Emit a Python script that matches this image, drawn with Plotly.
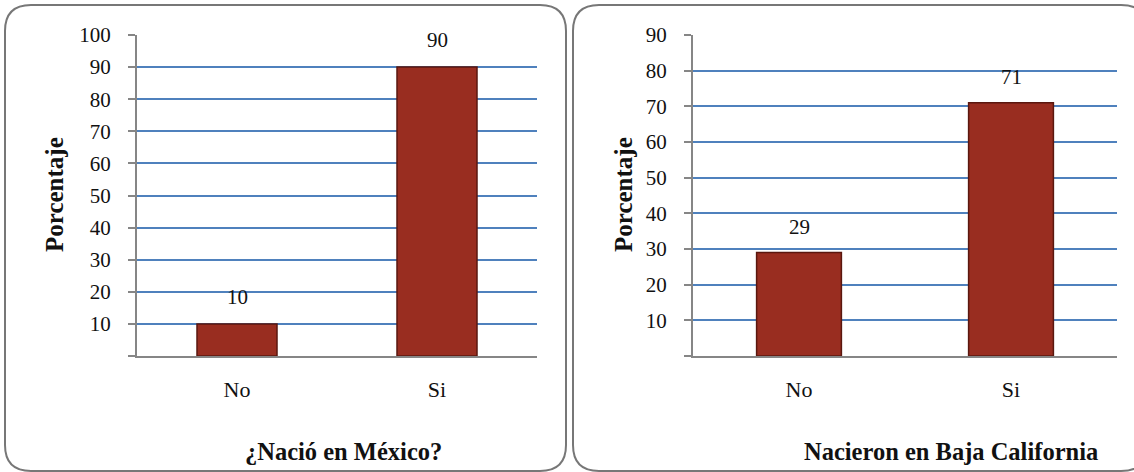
import plotly.graph_objects as go

# ---- data ----
categories = ["No", "Si"]
mexico_values = [10, 90]
baja_values = [29, 71]
mexico_labels = ["10", "90"]
baja_labels = ["29", "71"]
left_ticks = [0, 10, 20, 30, 40, 50, 60, 70, 80, 90, 100]
right_ticks = [0, 10, 20, 30, 40, 50, 60, 70, 80, 90]
left_title = "¿Nació en México?"
right_title = "Nacieron en Baja California"
y_title = "Porcentaje"

W, H = 1134, 472
FONT = "Liberation Serif"
BAR = "#992D20"
BAR_LINE = "#5A170F"
GRID = "#4F81BD"
AXIS = "#868686"
FRAME = "#777777"


def px(x):
    return x / W


def py(y):
    return 1 - y / H


fig = go.Figure()
fig.add_trace(go.Bar(x=categories, y=mexico_values, xaxis="x", yaxis="y",
                     marker=dict(color=BAR, line=dict(color=BAR_LINE, width=1.5)),
                     showlegend=False, hoverinfo="skip"))
fig.add_trace(go.Bar(x=categories, y=baja_values, xaxis="x2", yaxis="y2",
                     marker=dict(color=BAR, line=dict(color=BAR_LINE, width=1.5)),
                     showlegend=False, hoverinfo="skip"))

ydom = [py(356), py(35)]
common_x = dict(type="category", showline=True, linecolor=AXIS, linewidth=2,
                ticks="", showgrid=False, zeroline=False,
                tickfont=dict(family=FONT, size=22, color="#111"),
                ticklabelstandoff=13, fixedrange=True)
common_y = dict(showline=True, linecolor=AXIS, linewidth=2, ticks="outside",
                ticklen=7, tickwidth=2, tickcolor=AXIS, showgrid=True,
                gridcolor=GRID, gridwidth=2, zeroline=False,
                tickfont=dict(family=FONT, size=21, color="#111"),
                ticklabelstandoff=13, fixedrange=True)

fig.update_layout(
    width=W, height=H,
    margin=dict(l=0, r=0, t=0, b=0, pad=0, autoexpand=False),
    paper_bgcolor="white", plot_bgcolor="white",
    bargap=0.6,
    xaxis=dict(domain=[px(137), px(537)], anchor="y", **common_x),
    yaxis=dict(domain=ydom, anchor="x", range=[0, 100], tickmode="array",
               tickvals=left_ticks, ticktext=[""] + [str(v) for v in left_ticks[1:]],
               **common_y),
    xaxis2=dict(domain=[px(693), px(1117)], anchor="y2", **common_x),
    yaxis2=dict(domain=ydom, anchor="x2", range=[0, 90], tickmode="array",
                tickvals=right_ticks, ticktext=[""] + [str(v) for v in right_ticks[1:]],
                **common_y),
)

# data labels above bars
for c, v, t in zip(categories, mexico_values, mexico_labels):
    fig.add_annotation(x=c, y=v, xref="x", yref="y", text=t, showarrow=False,
                       yanchor="middle", yshift=27,
                       font=dict(family=FONT, size=21, color="#111"))
for c, v, t in zip(categories, baja_values, baja_labels):
    fig.add_annotation(x=c, y=v, xref="x2", yref="y2", text=t, showarrow=False,
                       yanchor="middle", yshift=26,
                       font=dict(family=FONT, size=21, color="#111"))

# titles
fig.add_annotation(x=px(343), y=py(451), xref="paper", yref="paper", text="<b>%s</b>" % left_title,
                   showarrow=False, xanchor="center", yanchor="middle",
                   font=dict(family=FONT, size=24.5, color="#111"))
fig.add_annotation(x=px(951), y=py(451), xref="paper", yref="paper", text="<b>%s</b>" % right_title,
                   showarrow=False, xanchor="center", yanchor="middle",
                   font=dict(family=FONT, size=24.5, color="#111"))
for xc in (54, 623):
    fig.add_annotation(x=px(xc), y=py(195), xref="paper", yref="paper", text="<b>%s</b>" % y_title,
                       showarrow=False, textangle=-90, xanchor="center", yanchor="middle",
                       font=dict(family=FONT, size=25, color="#111"))


def rounded(x0, y0, x1, y1, r):
    pts = [
        f"M {px(x0 + r)} {py(y0)}",
        f"L {px(x1 - r)} {py(y0)}",
        f"Q {px(x1)} {py(y0)} {px(x1)} {py(y0 + r)}",
        f"L {px(x1)} {py(y1 - r)}",
        f"Q {px(x1)} {py(y1)} {px(x1 - r)} {py(y1)}",
        f"L {px(x0 + r)} {py(y1)}",
        f"Q {px(x0)} {py(y1)} {px(x0)} {py(y1 - r)}",
        f"L {px(x0)} {py(y0 + r)}",
        f"Q {px(x0)} {py(y0)} {px(x0 + r)} {py(y0)}",
        "Z",
    ]
    return " ".join(pts)


fig.add_shape(type="path", xref="paper", yref="paper", path=rounded(5, 5, 566, 471, 26),
              line=dict(color=FRAME, width=2), fillcolor="rgba(0,0,0,0)", layer="above")
fig.add_shape(type="path", xref="paper", yref="paper", path=rounded(573, 5, 1147, 471, 26),
              line=dict(color=FRAME, width=2), fillcolor="rgba(0,0,0,0)", layer="above")

fig.write_html("out.html")
